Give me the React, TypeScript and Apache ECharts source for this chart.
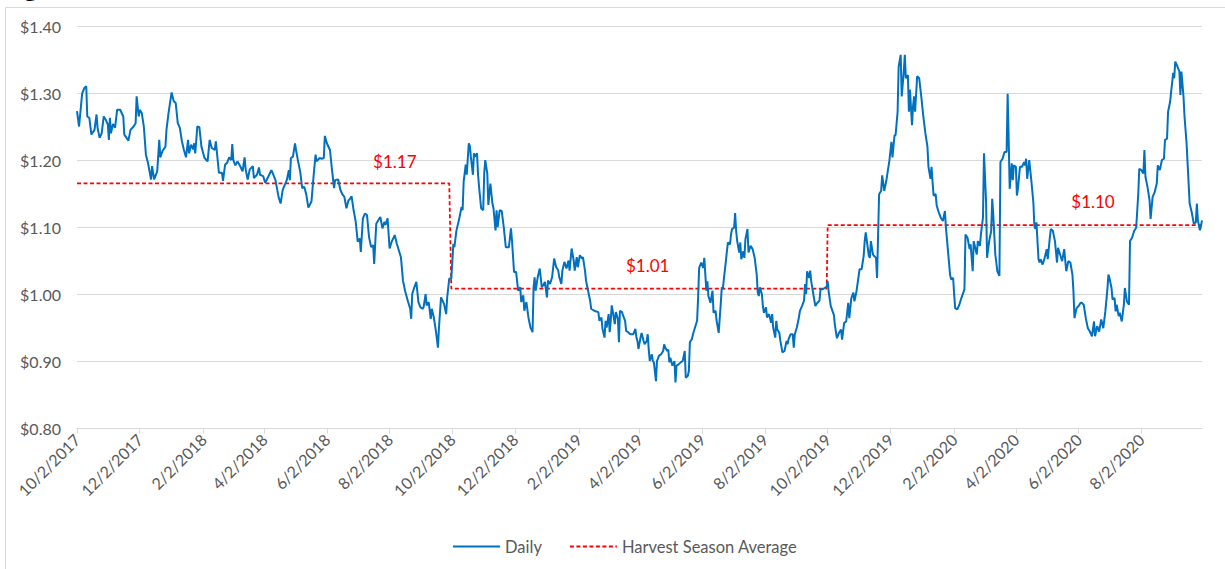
import React, { useEffect, useRef } from "react";
import * as echarts from "echarts";

const FONT = "Lato, 'Open Sans', sans-serif";

const axisStart = "2017-10-02";
const axisEnd = "2020-09-30";

const tickDates = [
  "2017-10-02", "2017-12-02", "2018-02-02", "2018-04-02", "2018-06-02", "2018-08-02",
  "2018-10-02", "2018-12-02", "2019-02-02", "2019-04-02", "2019-06-02", "2019-08-02",
  "2019-10-02", "2019-12-02", "2020-02-02", "2020-04-02", "2020-06-02", "2020-08-02",
];

const priceTicks = [0.8, 0.9, 1.0, 1.1, 1.2, 1.3, 1.4];

const dailyPrices: [string, number][] = [
  ["2017-10-02", 1.274], ["2017-10-04", 1.251], ["2017-10-07", 1.300], ["2017-10-09", 1.308],
  ["2017-10-11", 1.311], ["2017-10-12", 1.266], ["2017-10-14", 1.264], ["2017-10-16", 1.239],
  ["2017-10-19", 1.246], ["2017-10-21", 1.269], ["2017-10-22", 1.249], ["2017-10-24", 1.234],
  ["2017-10-26", 1.241], ["2017-10-28", 1.266], ["2017-10-30", 1.261], ["2017-11-01", 1.254],
  ["2017-11-02", 1.231], ["2017-11-03", 1.264], ["2017-11-04", 1.241], ["2017-11-06", 1.255],
  ["2017-11-08", 1.249], ["2017-11-10", 1.276], ["2017-11-13", 1.276], ["2017-11-16", 1.266],
  ["2017-11-17", 1.239], ["2017-11-21", 1.230], ["2017-11-23", 1.246], ["2017-11-26", 1.251],
  ["2017-11-28", 1.256], ["2017-11-29", 1.296], ["2017-12-01", 1.266], ["2017-12-02", 1.276],
  ["2017-12-04", 1.271], ["2017-12-06", 1.251], ["2017-12-08", 1.209], ["2017-12-10", 1.197],
  ["2017-12-13", 1.172], ["2017-12-14", 1.192], ["2017-12-16", 1.172], ["2017-12-19", 1.184],
  ["2017-12-21", 1.231], ["2017-12-22", 1.205], ["2017-12-24", 1.214], ["2017-12-27", 1.221],
  ["2017-12-28", 1.246], ["2017-12-30", 1.271], ["2018-01-02", 1.302], ["2018-01-04", 1.289],
  ["2018-01-06", 1.286], ["2018-01-08", 1.256], ["2018-01-10", 1.249], ["2018-01-12", 1.229],
  ["2018-01-14", 1.216], ["2018-01-16", 1.205], ["2018-01-18", 1.231], ["2018-01-19", 1.211],
  ["2018-01-21", 1.224], ["2018-01-23", 1.217], ["2018-01-24", 1.226], ["2018-01-25", 1.211],
  ["2018-01-27", 1.251], ["2018-01-29", 1.250], ["2018-01-31", 1.221], ["2018-02-03", 1.204],
  ["2018-02-06", 1.199], ["2018-02-08", 1.231], ["2018-02-10", 1.219], ["2018-02-13", 1.216],
  ["2018-02-14", 1.229], ["2018-02-17", 1.182], ["2018-02-20", 1.182], ["2018-02-21", 1.170],
  ["2018-02-23", 1.194], ["2018-02-25", 1.197], ["2018-02-27", 1.205], ["2018-03-01", 1.201],
  ["2018-03-02", 1.225], ["2018-03-03", 1.201], ["2018-03-05", 1.193], ["2018-03-07", 1.199],
  ["2018-03-10", 1.191], ["2018-03-12", 1.184], ["2018-03-14", 1.205], ["2018-03-15", 1.187],
  ["2018-03-17", 1.172], ["2018-03-19", 1.187], ["2018-03-22", 1.192], ["2018-03-23", 1.174],
  ["2018-03-26", 1.179], ["2018-03-28", 1.190], ["2018-03-29", 1.179], ["2018-04-01", 1.177],
  ["2018-04-03", 1.167], ["2018-04-06", 1.176], ["2018-04-09", 1.186], ["2018-04-11", 1.179],
  ["2018-04-13", 1.171], ["2018-04-16", 1.146], ["2018-04-18", 1.136], ["2018-04-20", 1.156],
  ["2018-04-22", 1.164], ["2018-04-24", 1.171], ["2018-04-26", 1.186], ["2018-04-27", 1.171],
  ["2018-04-28", 1.204], ["2018-04-30", 1.206], ["2018-05-02", 1.226], ["2018-05-03", 1.216],
  ["2018-05-05", 1.199], ["2018-05-07", 1.184], ["2018-05-09", 1.159], ["2018-05-11", 1.161],
  ["2018-05-13", 1.149], ["2018-05-15", 1.130], ["2018-05-18", 1.139], ["2018-05-20", 1.176],
  ["2018-05-22", 1.209], ["2018-05-23", 1.199], ["2018-05-26", 1.204], ["2018-05-28", 1.203],
  ["2018-05-30", 1.204], ["2018-05-31", 1.237], ["2018-06-02", 1.226], ["2018-06-05", 1.216],
  ["2018-06-07", 1.186], ["2018-06-09", 1.159], ["2018-06-10", 1.171], ["2018-06-13", 1.172],
  ["2018-06-15", 1.157], ["2018-06-17", 1.150], ["2018-06-19", 1.146], ["2018-06-21", 1.129],
  ["2018-06-23", 1.141], ["2018-06-24", 1.142], ["2018-06-26", 1.147], ["2018-06-28", 1.126],
  ["2018-06-30", 1.109], ["2018-07-02", 1.079], ["2018-07-04", 1.084], ["2018-07-05", 1.064],
  ["2018-07-07", 1.114], ["2018-07-09", 1.121], ["2018-07-11", 1.119], ["2018-07-13", 1.086],
  ["2018-07-15", 1.071], ["2018-07-17", 1.074], ["2018-07-18", 1.046], ["2018-07-20", 1.106],
  ["2018-07-22", 1.111], ["2018-07-24", 1.116], ["2018-07-26", 1.099], ["2018-07-28", 1.109],
  ["2018-07-29", 1.104], ["2018-07-31", 1.114], ["2018-08-02", 1.069], ["2018-08-04", 1.079],
  ["2018-08-07", 1.089], ["2018-08-09", 1.076], ["2018-08-11", 1.066], ["2018-08-13", 1.056],
  ["2018-08-15", 1.021], ["2018-08-17", 1.006], ["2018-08-20", 0.989], ["2018-08-22", 0.979],
  ["2018-08-23", 0.964], ["2018-08-24", 1.001], ["2018-08-26", 1.011], ["2018-08-28", 1.019],
  ["2018-08-30", 0.989], ["2018-09-01", 0.981], ["2018-09-03", 0.979], ["2018-09-04", 0.981],
  ["2018-09-06", 1.001], ["2018-09-07", 0.984], ["2018-09-09", 0.989], ["2018-09-11", 0.964],
  ["2018-09-12", 0.979], ["2018-09-14", 0.966], ["2018-09-16", 0.946], ["2018-09-18", 0.921],
  ["2018-09-19", 0.951], ["2018-09-21", 0.996], ["2018-09-24", 0.986], ["2018-09-26", 0.971],
  ["2018-09-27", 0.996], ["2018-09-29", 1.024], ["2018-10-01", 1.024], ["2018-10-03", 1.076],
  ["2018-10-04", 1.071], ["2018-10-06", 1.096], ["2018-10-08", 1.109], ["2018-10-09", 1.116],
  ["2018-10-11", 1.131], ["2018-10-12", 1.126], ["2018-10-13", 1.169], ["2018-10-14", 1.181],
  ["2018-10-15", 1.194], ["2018-10-16", 1.179], ["2018-10-18", 1.226], ["2018-10-19", 1.222],
  ["2018-10-20", 1.206], ["2018-10-22", 1.179], ["2018-10-23", 1.211], ["2018-10-24", 1.206],
  ["2018-10-26", 1.211], ["2018-10-27", 1.179], ["2018-10-28", 1.161], ["2018-10-30", 1.129],
  ["2018-11-01", 1.126], ["2018-11-02", 1.181], ["2018-11-03", 1.201], ["2018-11-05", 1.181],
  ["2018-11-06", 1.134], ["2018-11-08", 1.166], ["2018-11-10", 1.136], ["2018-11-11", 1.129],
  ["2018-11-13", 1.096], ["2018-11-14", 1.126], ["2018-11-15", 1.101], ["2018-11-17", 1.126],
  ["2018-11-19", 1.125], ["2018-11-21", 1.101], ["2018-11-23", 1.071], ["2018-11-26", 1.071],
  ["2018-11-28", 1.099], ["2018-11-29", 1.081], ["2018-12-01", 1.034], ["2018-12-03", 1.034],
  ["2018-12-05", 1.006], ["2018-12-07", 1.011], ["2018-12-08", 0.989], ["2018-12-10", 0.999],
  ["2018-12-11", 0.976], ["2018-12-13", 0.989], ["2018-12-15", 0.966], ["2018-12-17", 0.951],
  ["2018-12-19", 0.944], ["2018-12-20", 1.011], ["2018-12-21", 1.026], ["2018-12-22", 1.006],
  ["2018-12-24", 1.026], ["2018-12-26", 1.039], ["2018-12-28", 1.011], ["2018-12-30", 1.016],
  ["2018-12-31", 1.019], ["2019-01-02", 0.996], ["2019-01-03", 1.021], ["2019-01-05", 1.016],
  ["2019-01-07", 1.026], ["2019-01-09", 1.054], ["2019-01-11", 1.041], ["2019-01-13", 1.036],
  ["2019-01-14", 1.026], ["2019-01-16", 1.016], ["2019-01-17", 1.036], ["2019-01-19", 1.049],
  ["2019-01-21", 1.039], ["2019-01-23", 1.051], ["2019-01-24", 1.036], ["2019-01-26", 1.069],
  ["2019-01-28", 1.051], ["2019-01-29", 1.036], ["2019-01-31", 1.056], ["2019-02-01", 1.041],
  ["2019-02-03", 1.059], ["2019-02-05", 1.054], ["2019-02-06", 1.056], ["2019-02-08", 1.036],
  ["2019-02-09", 1.021], ["2019-02-11", 1.006], ["2019-02-13", 0.991], ["2019-02-14", 0.979],
  ["2019-02-17", 0.976], ["2019-02-19", 0.975], ["2019-02-21", 0.974], ["2019-02-22", 0.961],
  ["2019-02-24", 0.966], ["2019-02-25", 0.949], ["2019-02-27", 0.936], ["2019-02-28", 0.961],
  ["2019-03-01", 0.951], ["2019-03-03", 0.971], ["2019-03-04", 0.944], ["2019-03-05", 0.961],
  ["2019-03-06", 0.984], ["2019-03-08", 0.966], ["2019-03-09", 0.956], ["2019-03-10", 0.974],
  ["2019-03-12", 0.964], ["2019-03-13", 0.929], ["2019-03-14", 0.976], ["2019-03-16", 0.974],
  ["2019-03-17", 0.969], ["2019-03-19", 0.961], ["2019-03-20", 0.946], ["2019-03-22", 0.944],
  ["2019-03-24", 0.941], ["2019-03-25", 0.941], ["2019-03-27", 0.941], ["2019-03-29", 0.949],
  ["2019-03-30", 0.936], ["2019-03-31", 0.931], ["2019-04-01", 0.919], ["2019-04-03", 0.936],
  ["2019-04-04", 0.943], ["2019-04-06", 0.931], ["2019-04-07", 0.926], ["2019-04-09", 0.931],
  ["2019-04-10", 0.941], ["2019-04-11", 0.918], ["2019-04-12", 0.901], ["2019-04-14", 0.911],
  ["2019-04-15", 0.901], ["2019-04-16", 0.899], ["2019-04-18", 0.871], ["2019-04-19", 0.901],
  ["2019-04-21", 0.909], ["2019-04-23", 0.911], ["2019-04-25", 0.916], ["2019-04-26", 0.926],
  ["2019-04-27", 0.921], ["2019-04-29", 0.916], ["2019-04-30", 0.918], ["2019-05-01", 0.899],
  ["2019-05-02", 0.906], ["2019-05-04", 0.894], ["2019-05-06", 0.901], ["2019-05-07", 0.869],
  ["2019-05-08", 0.894], ["2019-05-10", 0.896], ["2019-05-12", 0.899], ["2019-05-14", 0.901],
  ["2019-05-16", 0.916], ["2019-05-17", 0.876], ["2019-05-19", 0.879], ["2019-05-20", 0.886],
  ["2019-05-21", 0.929], ["2019-05-23", 0.934], ["2019-05-24", 0.941], ["2019-05-26", 0.951],
  ["2019-05-28", 0.961], ["2019-05-29", 0.996], ["2019-05-30", 1.040], ["2019-06-01", 1.048],
  ["2019-06-03", 1.040], ["2019-06-04", 1.055], ["2019-06-06", 1.006], ["2019-06-07", 1.020],
  ["2019-06-08", 0.998], ["2019-06-10", 0.988], ["2019-06-12", 1.006], ["2019-06-13", 0.973],
  ["2019-06-15", 0.976], ["2019-06-16", 0.961], ["2019-06-18", 0.943], ["2019-06-20", 0.986],
  ["2019-06-21", 1.011], ["2019-06-22", 1.008], ["2019-06-23", 1.023], ["2019-06-25", 1.050],
  ["2019-06-26", 1.065], ["2019-06-27", 1.078], ["2019-06-29", 1.075], ["2019-06-30", 1.090],
  ["2019-07-01", 1.098], ["2019-07-03", 1.100], ["2019-07-04", 1.122], ["2019-07-05", 1.095],
  ["2019-07-06", 1.080], ["2019-07-08", 1.063], ["2019-07-09", 1.078], ["2019-07-10", 1.053],
  ["2019-07-12", 1.065], ["2019-07-13", 1.055], ["2019-07-14", 1.083], ["2019-07-16", 1.098],
  ["2019-07-17", 1.063], ["2019-07-19", 1.073], ["2019-07-21", 1.068], ["2019-07-23", 1.055],
  ["2019-07-25", 1.030], ["2019-07-26", 1.003], ["2019-07-27", 0.998], ["2019-07-28", 1.011],
  ["2019-07-30", 1.001], ["2019-07-31", 0.983], ["2019-08-01", 0.973], ["2019-08-03", 0.981],
  ["2019-08-04", 0.966], ["2019-08-06", 0.971], ["2019-08-08", 0.958], ["2019-08-09", 0.971],
  ["2019-08-10", 0.951], ["2019-08-12", 0.936], ["2019-08-13", 0.961], ["2019-08-14", 0.948],
  ["2019-08-16", 0.943], ["2019-08-17", 0.931], ["2019-08-19", 0.914], ["2019-08-21", 0.916],
  ["2019-08-23", 0.931], ["2019-08-24", 0.926], ["2019-08-25", 0.934], ["2019-08-27", 0.941],
  ["2019-08-29", 0.941], ["2019-08-30", 0.921], ["2019-08-31", 0.941], ["2019-09-02", 0.951],
  ["2019-09-04", 0.966], ["2019-09-05", 0.976], ["2019-09-07", 0.983], ["2019-09-09", 0.991],
  ["2019-09-10", 1.016], ["2019-09-11", 1.001], ["2019-09-12", 1.035], ["2019-09-14", 1.025],
  ["2019-09-15", 1.036], ["2019-09-16", 1.020], ["2019-09-18", 1.001], ["2019-09-20", 0.983],
  ["2019-09-22", 0.988], ["2019-09-24", 0.991], ["2019-09-25", 1.008], ["2019-09-27", 1.008],
  ["2019-09-29", 1.010], ["2019-10-01", 1.012], ["2019-10-02", 1.020], ["2019-10-03", 1.004],
  ["2019-10-05", 0.983], ["2019-10-08", 0.970], ["2019-10-09", 0.955], ["2019-10-11", 0.935],
  ["2019-10-13", 0.943], ["2019-10-15", 0.948], ["2019-10-16", 0.933], ["2019-10-18", 0.958],
  ["2019-10-20", 0.960], ["2019-10-22", 0.988], ["2019-10-23", 0.965], ["2019-10-25", 0.995],
  ["2019-10-27", 1.003], ["2019-10-28", 0.990], ["2019-10-30", 1.005], ["2019-11-02", 1.038],
  ["2019-11-04", 1.038], ["2019-11-06", 1.058], ["2019-11-07", 1.080], ["2019-11-08", 1.093],
  ["2019-11-10", 1.070], ["2019-11-11", 1.058], ["2019-11-12", 1.055], ["2019-11-13", 1.080],
  ["2019-11-15", 1.060], ["2019-11-16", 1.058], ["2019-11-18", 1.055], ["2019-11-19", 1.025],
  ["2019-11-21", 1.150], ["2019-11-23", 1.155], ["2019-11-24", 1.178], ["2019-11-26", 1.155],
  ["2019-11-28", 1.170], ["2019-11-29", 1.180], ["2019-12-01", 1.200], ["2019-12-03", 1.228],
  ["2019-12-04", 1.205], ["2019-12-06", 1.238], ["2019-12-07", 1.238], ["2019-12-09", 1.273],
  ["2019-12-10", 1.340], ["2019-12-12", 1.358], ["2019-12-13", 1.296], ["2019-12-15", 1.333],
  ["2019-12-16", 1.358], ["2019-12-17", 1.323], ["2019-12-19", 1.328], ["2019-12-20", 1.273],
  ["2019-12-21", 1.306], ["2019-12-23", 1.253], ["2019-12-24", 1.281], ["2019-12-25", 1.296],
  ["2019-12-26", 1.273], ["2019-12-28", 1.326], ["2019-12-30", 1.323], ["2020-01-01", 1.296],
  ["2020-01-03", 1.266], ["2020-01-05", 1.241], ["2020-01-07", 1.221], ["2020-01-08", 1.191],
  ["2020-01-10", 1.173], ["2020-01-11", 1.191], ["2020-01-12", 1.168], ["2020-01-13", 1.148],
  ["2020-01-15", 1.150], ["2020-01-16", 1.133], ["2020-01-18", 1.123], ["2020-01-20", 1.115],
  ["2020-01-22", 1.110], ["2020-01-24", 1.125], ["2020-01-25", 1.100], ["2020-01-27", 1.065],
  ["2020-01-29", 1.030], ["2020-01-30", 1.023], ["2020-02-01", 1.025], ["2020-02-02", 1.000],
  ["2020-02-03", 0.980], ["2020-02-05", 0.978], ["2020-02-07", 0.985], ["2020-02-09", 0.995],
  ["2020-02-12", 1.008], ["2020-02-13", 1.090], ["2020-02-15", 1.085], ["2020-02-17", 1.068],
  ["2020-02-18", 1.075], ["2020-02-20", 1.035], ["2020-02-21", 1.080], ["2020-02-22", 1.073],
  ["2020-02-24", 1.060], ["2020-02-25", 1.080], ["2020-02-27", 1.073], ["2020-02-28", 1.090],
  ["2020-03-01", 1.115], ["2020-03-02", 1.211], ["2020-03-04", 1.140], ["2020-03-05", 1.055],
  ["2020-03-07", 1.080], ["2020-03-09", 1.095], ["2020-03-10", 1.143], ["2020-03-11", 1.120],
  ["2020-03-13", 1.060], ["2020-03-15", 1.035], ["2020-03-17", 1.028], ["2020-03-18", 1.198],
  ["2020-03-20", 1.203], ["2020-03-22", 1.213], ["2020-03-24", 1.213], ["2020-03-25", 1.300],
  ["2020-03-26", 1.231], ["2020-03-27", 1.158], ["2020-03-29", 1.196], ["2020-03-30", 1.171],
  ["2020-03-31", 1.193], ["2020-04-02", 1.191], ["2020-04-03", 1.148], ["2020-04-04", 1.158],
  ["2020-04-06", 1.191], ["2020-04-08", 1.191], ["2020-04-10", 1.198], ["2020-04-11", 1.193],
  ["2020-04-12", 1.203], ["2020-04-13", 1.173], ["2020-04-15", 1.201], ["2020-04-17", 1.171],
  ["2020-04-19", 1.138], ["2020-04-20", 1.103], ["2020-04-21", 1.098], ["2020-04-22", 1.108],
  ["2020-04-24", 1.053], ["2020-04-25", 1.048], ["2020-04-26", 1.053], ["2020-04-28", 1.045],
  ["2020-04-30", 1.055], ["2020-05-02", 1.068], ["2020-05-03", 1.053], ["2020-05-05", 1.085],
  ["2020-05-06", 1.098], ["2020-05-08", 1.095], ["2020-05-10", 1.080], ["2020-05-12", 1.048],
  ["2020-05-13", 1.070], ["2020-05-15", 1.060], ["2020-05-17", 1.050], ["2020-05-19", 1.068],
  ["2020-05-21", 1.035], ["2020-05-23", 1.050], ["2020-05-25", 1.048], ["2020-05-27", 1.030],
  ["2020-05-28", 1.005], ["2020-05-29", 0.965], ["2020-05-31", 0.980], ["2020-06-02", 0.983],
  ["2020-06-04", 0.988], ["2020-06-05", 0.988], ["2020-06-07", 0.985], ["2020-06-09", 0.965],
  ["2020-06-11", 0.950], ["2020-06-13", 0.945], ["2020-06-15", 0.938], ["2020-06-17", 0.960],
  ["2020-06-18", 0.938], ["2020-06-20", 0.953], ["2020-06-22", 0.945], ["2020-06-24", 0.963],
  ["2020-06-26", 0.950], ["2020-06-28", 0.975], ["2020-06-30", 1.008], ["2020-07-01", 1.030],
  ["2020-07-02", 1.025], ["2020-07-04", 1.010], ["2020-07-05", 0.993], ["2020-07-07", 0.995],
  ["2020-07-08", 0.975], ["2020-07-09", 0.985], ["2020-07-11", 0.968], ["2020-07-12", 0.973],
  ["2020-07-14", 0.960], ["2020-07-16", 0.985], ["2020-07-17", 1.010], ["2020-07-19", 0.990],
  ["2020-07-21", 0.985], ["2020-07-22", 1.080], ["2020-07-24", 1.085], ["2020-07-26", 1.095],
  ["2020-07-28", 1.100], ["2020-07-30", 1.150], ["2020-07-31", 1.188], ["2020-08-02", 1.186],
  ["2020-08-04", 1.181], ["2020-08-05", 1.216], ["2020-08-06", 1.176], ["2020-08-08", 1.161],
  ["2020-08-10", 1.141], ["2020-08-11", 1.113], ["2020-08-13", 1.146], ["2020-08-15", 1.153],
  ["2020-08-17", 1.166], ["2020-08-18", 1.193], ["2020-08-20", 1.186], ["2020-08-22", 1.201],
  ["2020-08-24", 1.203], ["2020-08-25", 1.231], ["2020-08-27", 1.233], ["2020-08-28", 1.273],
  ["2020-08-30", 1.288], ["2020-08-31", 1.303], ["2020-09-02", 1.331], ["2020-09-03", 1.323],
  ["2020-09-04", 1.348], ["2020-09-06", 1.341], ["2020-09-08", 1.333], ["2020-09-09", 1.298],
  ["2020-09-10", 1.333], ["2020-09-12", 1.296], ["2020-09-13", 1.266], ["2020-09-15", 1.226],
  ["2020-09-16", 1.196], ["2020-09-18", 1.136], ["2020-09-20", 1.123], ["2020-09-22", 1.106],
  ["2020-09-24", 1.108], ["2020-09-25", 1.136], ["2020-09-26", 1.111], ["2020-09-28", 1.096],
  ["2020-09-29", 1.103], ["2020-09-30", 1.111],
];

const harvestAverage: [string, number][] = [
  ["2017-10-02", 1.166], ["2018-09-29", 1.166],
  ["2018-10-01", 1.009], ["2019-10-01", 1.009],
  ["2019-10-02", 1.104], ["2020-09-30", 1.104],
];

const averageLabels: { text: string; date: string; price: number }[] = [
  { text: "$1.17", date: "2018-08-07", price: 1.199 },
  { text: "$1.01", date: "2019-04-10", price: 1.043 },
  { text: "$1.10", date: "2020-06-16", price: 1.139 },
];

function ts(s: string): number {
  const [y, m, d] = s.split("-").map(Number);
  return new Date(y, m - 1, d).getTime();
}

function fmtDate(v: number): string {
  const d = new Date(v);
  return `${d.getMonth() + 1}/${d.getDate()}/${d.getFullYear()}`;
}

export default function App() {
  const ref = useRef<HTMLDivElement>(null);

  useEffect(() => {
    if (!ref.current) return;
    const chart = echarts.init(ref.current, undefined, { renderer: "svg" });
    const tickValues = tickDates.map(ts);

    const option: any = {
      animation: false,
      backgroundColor: "#ffffff",
      textStyle: { fontFamily: FONT },
      grid: { left: 77, right: 23, top: 26.7, bottom: 140.3, containLabel: false },
      xAxis: {
        type: "value",
        min: ts(axisStart),
        max: ts(axisEnd),
        axisLine: { show: true, lineStyle: { color: "#D9D9D9", width: 1 } },
        axisTick: {
          show: true,
          customValues: tickValues,
          length: 5,
          lineStyle: { color: "#D9D9D9", width: 1 },
        },
        axisLabel: {
          customValues: tickValues,
          rotate: 45,
          formatter: (v: number) => fmtDate(v),
          color: "#595959",
          fontFamily: FONT,
          fontSize: 16,
          margin: 8,
        },
        splitLine: { show: false },
      },
      yAxis: {
        type: "value",
        min: 0.8,
        max: 1.4,
        interval: 0.1,
        axisLine: { show: false },
        axisTick: { show: false },
        axisLabel: {
          customValues: priceTicks,
          formatter: (v: number) => "$" + v.toFixed(2),
          color: "#595959",
          fontFamily: FONT,
          fontSize: 16,
          margin: 16,
        },
        splitLine: { show: true, lineStyle: { color: "#D9D9D9", width: 1 } },
      },
      legend: {
        data: ["Daily", "Harvest Season Average"],
        left: 452,
        top: 538,
        padding: 0,
        itemWidth: 47,
        itemHeight: 14,
        itemGap: 27,
        itemStyle: { opacity: 0 },
        textStyle: { color: "#595959", fontSize: 16.5, fontFamily: FONT },
      },
      graphic: [
        {
          type: "rect",
          shape: { x: 5.5, y: 7.5, width: 1300, height: 700 },
          style: { fill: "none", stroke: "#D9D9D9", lineWidth: 1 },
          silent: true,
        },
        {
          type: "text",
          x: 0,
          y: -1,
          style: {
            text: "Figure",
            font: "bold 28px Lato",
            fill: "#000000",
            verticalAlign: "bottom",
          },
          silent: true,
        },
      ],
      series: [
        {
          name: "Daily",
          type: "line",
          symbol: "none",
          color: "#0070C0",
          lineStyle: { color: "#0070C0", width: 2 },
          data: dailyPrices.map(([d, v]) => [ts(d), v]),
          z: 3,
        },
        {
          name: "Harvest Season Average",
          type: "line",
          symbol: "none",
          color: "#FF0000",
          lineStyle: { color: "#FF0000", width: 1.75, type: [4, 2.5] },
          data: harvestAverage.map(([d, v]) => [ts(d), v]),
          z: 2,
          markPoint: {
            symbol: "circle",
            symbolSize: 0,
            silent: true,
            label: {
              show: true,
              position: "inside",
              formatter: "{b}",
              color: "#FF0000",
              fontSize: 17,
              fontFamily: FONT,
            },
            data: averageLabels.map((l) => ({ name: l.text, coord: [ts(l.date), l.price] })),
          },
        },
      ],
    };

    chart.setOption(option);
    return () => chart.dispose();
  }, []);

  return (
    <div
      ref={ref}
      style={{ position: "absolute", left: 0, top: 0, width: 1225, height: 569, background: "#ffffff" }}
    />
  );
}
